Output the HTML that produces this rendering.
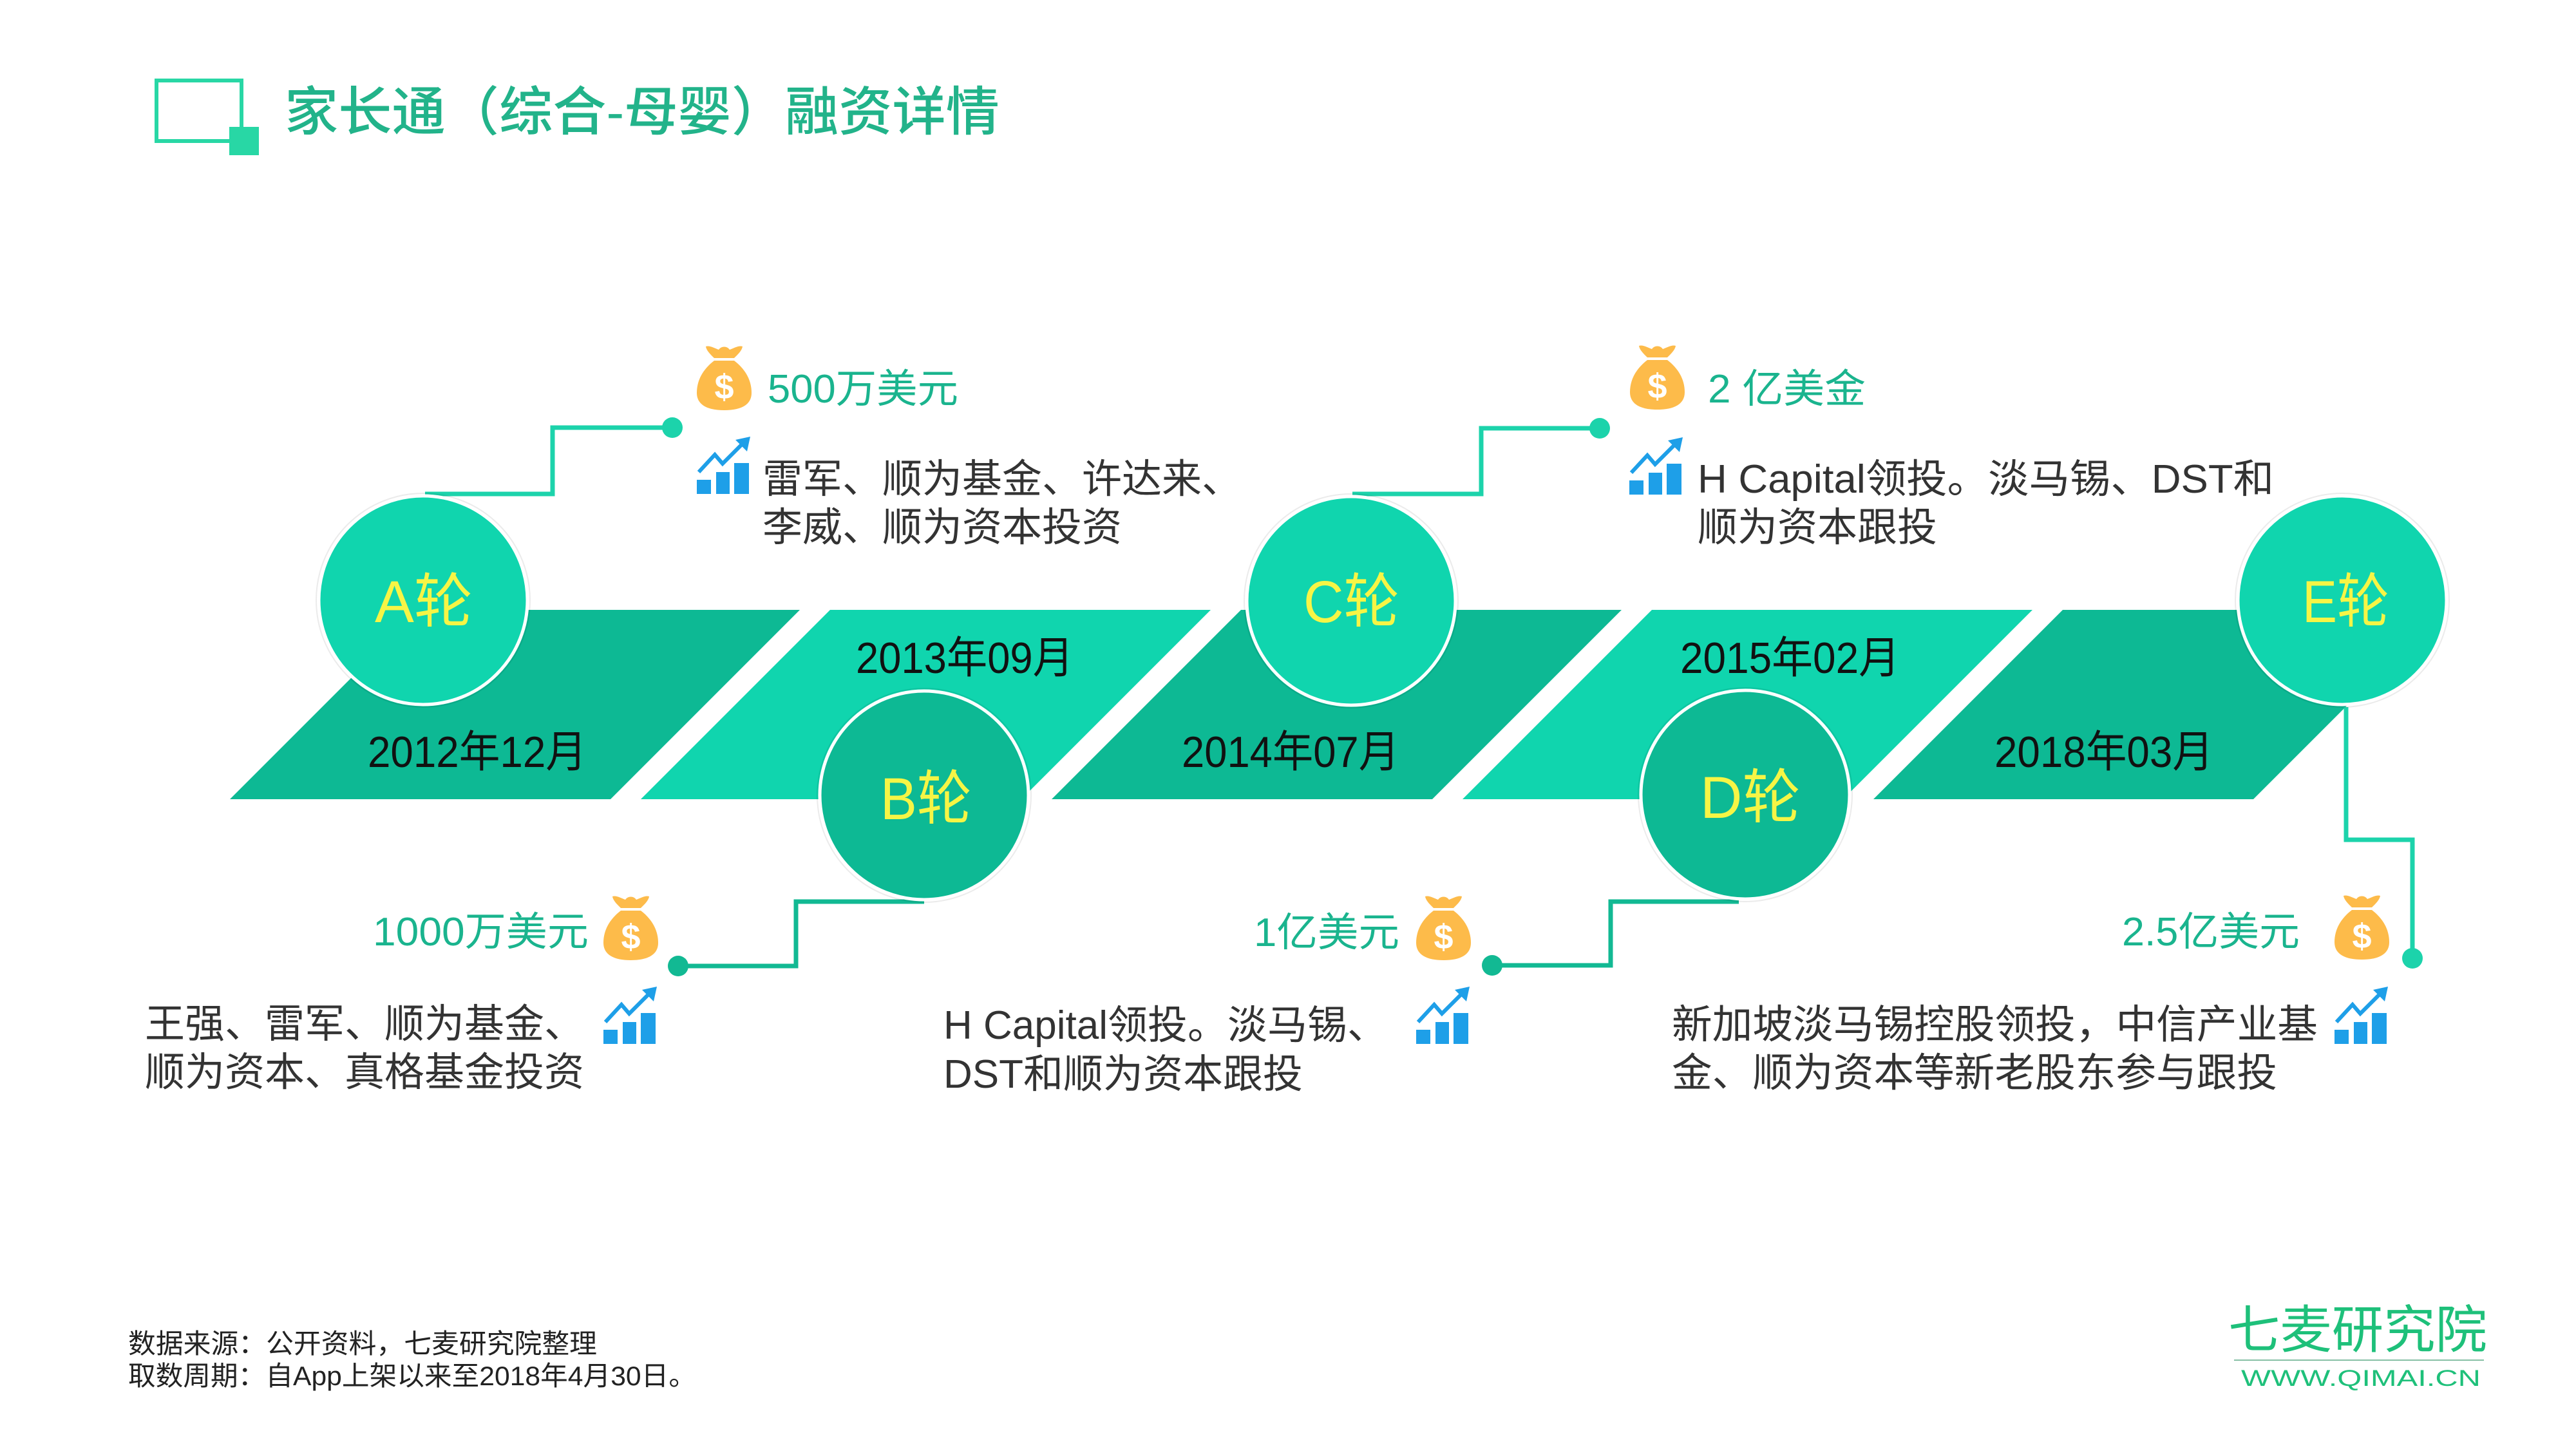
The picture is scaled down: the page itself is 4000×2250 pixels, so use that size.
<!DOCTYPE html>
<html>
<head>
<meta charset="utf-8">
<style>
  html,body{margin:0;padding:0;background:#fff;}
  body{width:4000px;height:2250px;overflow:hidden;}
  svg{display:block;}
  text{font-family:"Liberation Sans","Noto Sans CJK SC","WenQuanYi Zen Hei",sans-serif;}
</style>
</head>
<body>
<svg width="4000" height="2250" viewBox="0 0 4000 2250" xmlns="http://www.w3.org/2000/svg">
  <rect x="0" y="0" width="4000" height="2250" fill="#ffffff"/>

  <!-- Title icon -->
  <rect x="243" y="125" width="132" height="94" fill="none" stroke="#28D7A5" stroke-width="6"/>
  <rect x="356" y="197" width="46" height="44" fill="#28D7A5"/>
  <text x="442" y="202" font-size="82" font-weight="500" fill="#22B38A" textLength="1110" lengthAdjust="spacingAndGlyphs">家长通（综合-母婴）融资详情</text>

  <!-- Band segments -->
  <polygon points="357,1241 948,1241 1242,947 651,947" fill="#0DB994"/>
  <polygon points="995,1241 1586,1241 1880,947 1289,947" fill="#10D5AE"/>
  <polygon points="1633,1241 2224,1241 2518,947 1927,947" fill="#0DB994"/>
  <polygon points="2271,1241 2862,1241 3156,947 2565,947" fill="#10D5AE"/>
  <polygon points="2909,1241 3499,1241 3793,947 3203,947" fill="#0DB994"/>

  <!-- Connectors -->
  <g fill="none" stroke-width="7" stroke-linejoin="miter">
    <polyline points="660,767 858,767 858,664 1044,664" stroke="#1CD3AB"/>
    <polyline points="2100,767 2300,767 2300,665 2484,665" stroke="#1CD3AB"/>
    <polyline points="1435,1400 1236,1400 1236,1500 1053,1500" stroke="#12B993"/>
    <polyline points="2700,1400 2501,1400 2501,1499 2317,1499" stroke="#12B993"/>
    <polyline points="3643,1098 3643,1304 3746,1304 3746,1488" stroke="#1CD3AB"/>
  </g>
  <circle cx="1044" cy="664" r="16" fill="#1CD3AB"/>
  <circle cx="2484" cy="665" r="16" fill="#1CD3AB"/>
  <circle cx="1053" cy="1500" r="16" fill="#12B993"/>
  <circle cx="2317" cy="1499" r="16" fill="#12B993"/>
  <circle cx="3746" cy="1488" r="16" fill="#1CD3AB"/>

  <!-- Circles -->
  <g stroke-width="2" fill="none" stroke="rgba(0,0,0,0.08)">
    <circle cx="657" cy="932" r="166"/>
    <circle cx="1435" cy="1235" r="166"/>
    <circle cx="2098" cy="933" r="166"/>
    <circle cx="2710" cy="1234" r="166"/>
    <circle cx="3637" cy="932" r="166"/>
  </g>
  <circle cx="657" cy="932" r="162" fill="#10D5AE" stroke="#ffffff" stroke-width="5"/>
  <circle cx="1435" cy="1235" r="162" fill="#0DB994" stroke="#ffffff" stroke-width="5"/>
  <circle cx="2098" cy="933" r="162" fill="#10D5AE" stroke="#ffffff" stroke-width="5"/>
  <circle cx="2710" cy="1234" r="162" fill="#0DB994" stroke="#ffffff" stroke-width="5"/>
  <circle cx="3637" cy="932" r="162" fill="#10D5AE" stroke="#ffffff" stroke-width="5"/>

  <!-- Circle labels -->
  <g font-size="92" fill="#F6F545">
    <text x="582" y="966" textLength="152" lengthAdjust="spacingAndGlyphs">A轮</text>
    <text x="1367" y="1272" textLength="142" lengthAdjust="spacingAndGlyphs">B轮</text>
    <text x="2024" y="966" textLength="149" lengthAdjust="spacingAndGlyphs">C轮</text>
    <text x="2640" y="1270" textLength="156" lengthAdjust="spacingAndGlyphs">D轮</text>
    <text x="3575" y="966" textLength="135" lengthAdjust="spacingAndGlyphs">E轮</text>
  </g>

  <!-- Dates -->
  <g font-size="68" fill="#111111">
    <text x="571" y="1191" textLength="340" lengthAdjust="spacingAndGlyphs">2012年12月</text>
    <text x="1329" y="1045" textLength="338" lengthAdjust="spacingAndGlyphs">2013年09月</text>
    <text x="1835" y="1191" textLength="338" lengthAdjust="spacingAndGlyphs">2014年07月</text>
    <text x="2609" y="1045" textLength="341" lengthAdjust="spacingAndGlyphs">2015年02月</text>
    <text x="3097" y="1191" textLength="340" lengthAdjust="spacingAndGlyphs">2018年03月</text>
  </g>

  <!-- Money bags -->
  <g transform="translate(1082,535)">
    <path d="M14,3 C20,1 28,6 34,8 C38,2 47,2 51,8 C57,6 65,1 71,3 C70,10 62,17 58,21 L27,21 C23,17 15,10 14,3 Z" fill="#FDBB4A"/>
    <path d="M27,25 L58,25 C75,38 85,55 85,75 C85,94 68,102 42.5,102 C17,102 0,94 0,75 C0,55 10,38 27,25 Z" fill="#FDBB4A"/>
    <text x="42.5" y="84" font-size="54" font-weight="bold" fill="#ffffff" text-anchor="middle">$</text>
  </g>
  <g transform="translate(2531,534)">
    <path d="M14,3 C20,1 28,6 34,8 C38,2 47,2 51,8 C57,6 65,1 71,3 C70,10 62,17 58,21 L27,21 C23,17 15,10 14,3 Z" fill="#FDBB4A"/>
    <path d="M27,25 L58,25 C75,38 85,55 85,75 C85,94 68,102 42.5,102 C17,102 0,94 0,75 C0,55 10,38 27,25 Z" fill="#FDBB4A"/>
    <text x="42.5" y="84" font-size="54" font-weight="bold" fill="#ffffff" text-anchor="middle">$</text>
  </g>
  <g transform="translate(937,1389)">
    <path d="M14,3 C20,1 28,6 34,8 C38,2 47,2 51,8 C57,6 65,1 71,3 C70,10 62,17 58,21 L27,21 C23,17 15,10 14,3 Z" fill="#FDBB4A"/>
    <path d="M27,25 L58,25 C75,38 85,55 85,75 C85,94 68,102 42.5,102 C17,102 0,94 0,75 C0,55 10,38 27,25 Z" fill="#FDBB4A"/>
    <text x="42.5" y="84" font-size="54" font-weight="bold" fill="#ffffff" text-anchor="middle">$</text>
  </g>
  <g transform="translate(2199,1389)">
    <path d="M14,3 C20,1 28,6 34,8 C38,2 47,2 51,8 C57,6 65,1 71,3 C70,10 62,17 58,21 L27,21 C23,17 15,10 14,3 Z" fill="#FDBB4A"/>
    <path d="M27,25 L58,25 C75,38 85,55 85,75 C85,94 68,102 42.5,102 C17,102 0,94 0,75 C0,55 10,38 27,25 Z" fill="#FDBB4A"/>
    <text x="42.5" y="84" font-size="54" font-weight="bold" fill="#ffffff" text-anchor="middle">$</text>
  </g>
  <g transform="translate(3625,1388)">
    <path d="M14,3 C20,1 28,6 34,8 C38,2 47,2 51,8 C57,6 65,1 71,3 C70,10 62,17 58,21 L27,21 C23,17 15,10 14,3 Z" fill="#FDBB4A"/>
    <path d="M27,25 L58,25 C75,38 85,55 85,75 C85,94 68,102 42.5,102 C17,102 0,94 0,75 C0,55 10,38 27,25 Z" fill="#FDBB4A"/>
    <text x="42.5" y="84" font-size="54" font-weight="bold" fill="#ffffff" text-anchor="middle">$</text>
  </g>

  <!-- Chart icons -->
  <g transform="translate(1082,678)" fill="#1E9FE8">
    <rect x="0" y="67" width="22" height="22"/><rect x="30" y="55" width="21" height="34"/><rect x="58" y="41" width="23" height="48"/>
    <polyline points="3,55 28,28 40,42 72,10" fill="none" stroke="#1E9FE8" stroke-width="6"/>
    <polygon points="83,0 60,5 78,23"/>
  </g>
  <g transform="translate(2530,679)" fill="#1E9FE8">
    <rect x="0" y="67" width="22" height="22"/><rect x="30" y="55" width="21" height="34"/><rect x="58" y="41" width="23" height="48"/>
    <polyline points="3,55 28,28 40,42 72,10" fill="none" stroke="#1E9FE8" stroke-width="6"/>
    <polygon points="83,0 60,5 78,23"/>
  </g>
  <g transform="translate(937,1532)" fill="#1E9FE8">
    <rect x="0" y="67" width="22" height="22"/><rect x="30" y="55" width="21" height="34"/><rect x="58" y="41" width="23" height="48"/>
    <polyline points="3,55 28,28 40,42 72,10" fill="none" stroke="#1E9FE8" stroke-width="6"/>
    <polygon points="83,0 60,5 78,23"/>
  </g>
  <g transform="translate(2199,1532)" fill="#1E9FE8">
    <rect x="0" y="67" width="22" height="22"/><rect x="30" y="55" width="21" height="34"/><rect x="58" y="41" width="23" height="48"/>
    <polyline points="3,55 28,28 40,42 72,10" fill="none" stroke="#1E9FE8" stroke-width="6"/>
    <polygon points="83,0 60,5 78,23"/>
  </g>
  <g transform="translate(3625,1532)" fill="#1E9FE8">
    <rect x="0" y="67" width="22" height="22"/><rect x="30" y="55" width="21" height="34"/><rect x="58" y="41" width="23" height="48"/>
    <polyline points="3,55 28,28 40,42 72,10" fill="none" stroke="#1E9FE8" stroke-width="6"/>
    <polygon points="83,0 60,5 78,23"/>
  </g>

  <!-- Amounts -->
  <g font-size="62" fill="#1AB48E">
    <text x="1192" y="625" textLength="296" lengthAdjust="spacingAndGlyphs">500万美元</text>
    <text x="2652" y="625" textLength="245" lengthAdjust="spacingAndGlyphs">2 亿美金</text>
    <text x="579" y="1468" textLength="335" lengthAdjust="spacingAndGlyphs">1000万美元</text>
    <text x="1947" y="1469" textLength="226" lengthAdjust="spacingAndGlyphs">1亿美元</text>
    <text x="3295" y="1468" textLength="276" lengthAdjust="spacingAndGlyphs">2.5亿美元</text>
  </g>

  <!-- Investor texts -->
  <g font-size="62" fill="#333333">
    <text x="1184" y="765">雷军、顺为基金、许达来、</text>
    <text x="1184" y="840">李威、顺为资本投资</text>

    <text x="2636" y="765" textLength="895" lengthAdjust="spacingAndGlyphs">H Capital领投。淡马锡、DST和</text>
    <text x="2636" y="840">顺为资本跟投</text>

    <text x="225" y="1611">王强、雷军、顺为基金、</text>
    <text x="225" y="1686">顺为资本、真格基金投资</text>

    <text x="1465" y="1613">H Capital领投。淡马锡、</text>
    <text x="1465" y="1689">DST和顺为资本跟投</text>

    <text x="2596" y="1612" textLength="1003" lengthAdjust="spacingAndGlyphs">新加坡淡马锡控股领投，中信产业基</text>
    <text x="2596" y="1687" textLength="940" lengthAdjust="spacingAndGlyphs">金、顺为资本等新老股东参与跟投</text>
  </g>

  <!-- Footer -->
  <g font-size="42" fill="#222222">
    <text x="199" y="2101" textLength="728" lengthAdjust="spacingAndGlyphs">数据来源：公开资料，七麦研究院整理</text>
    <text x="199" y="2151" textLength="882" lengthAdjust="spacingAndGlyphs">取数周期：自App上架以来至2018年4月30日。</text>
  </g>

  <!-- Logo -->
  <text x="3460" y="2093" font-size="80" fill="#1EC07A" textLength="402" lengthAdjust="spacingAndGlyphs">七麦研究院</text>
  <line x1="3469" y1="2112" x2="3857" y2="2112" stroke="#86BFA5" stroke-width="2"/>
  <text x="3480" y="2152" font-size="35" fill="#1EC07A" textLength="372" lengthAdjust="spacingAndGlyphs">WWW.QIMAI.CN</text>
</svg>
</body>
</html>
